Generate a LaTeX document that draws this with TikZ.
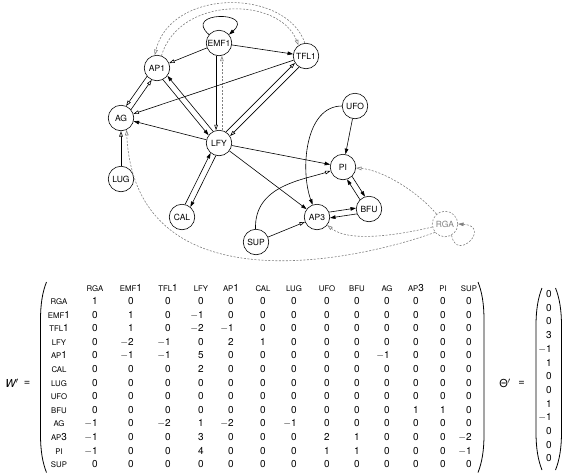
\documentclass[tikz,border=0pt]{standalone}
\usepackage{fontspec}
\setmainfont{TeX Gyre Heros}
\usetikzlibrary{arrows.meta}
\newcommand\lab[2]{{\fontsize{7.8}{9}\selectfont #1}{\fontsize{10}{11}\selectfont #2}}
\newcommand\sval[1]{\ifnum#1<0 \llap{$-$}\number-#1\else#1\fi}
\newcommand\mylpar[3]{\draw[par] ({#1+6},{#2}) .. controls ({#1+2},{#2+10}) and ({#1},{#2+22}) .. ({#1},{#2+38}) -- ({#1},{#3-38}) .. controls ({#1},{#3-22}) and ({#1+2},{#3-10}) .. ({#1+6},{#3});}
\newcommand\myrpar[3]{\draw[par] ({#1-6},{#2}) .. controls ({#1-2},{#2+10}) and ({#1},{#2+22}) .. ({#1},{#2+38}) -- ({#1},{#3-38}) .. controls ({#1},{#3-22}) and ({#1-2},{#3-10}) .. ({#1-6},{#3});}
\begin{document}
\begin{tikzpicture}[x=1pt,y=-1pt,
 gn/.style={circle,draw,line width=0.6pt,minimum size=25.5pt,inner sep=0pt,font=\fontsize{8.5}{10}\selectfont},
 gnd/.style={gn,draw=gray,text=gray,dash pattern=on 2pt off 1.5pt},
 ln/.style={line width=0.6pt},
 posa/.style={ln,-{Triangle[length=5.5pt,width=3.6pt]}},
 nega/.style={ln,-{Triangle[open,fill=white,length=5.5pt,width=3.6pt]}},
 dsh/.style={gray,dash pattern=on 2pt off 1.5pt},
 posd/.style={posa,dsh},
 negd/.style={nega,dsh},
 num/.style={inner sep=0pt,text height=7pt,text depth=0pt,font=\fontsize{10}{12}\selectfont},
 lbl/.style={inner sep=0pt,text height=7pt,text depth=0pt},
 big/.style={inner sep=0pt,font=\fontsize{11}{13}\selectfont},
 par/.style={line width=0.8pt},
]
\useasboundingbox (0,0) rectangle (563,475);
% graph nodes
\node[gn] (EMF1) at (219,43) {EMF1};
\node[gn] (TFL1) at (306,56) {TFL1};
\node[gn] (AP1) at (157,68) {AP1};
\node[gn] (AG) at (121,118) {AG};
\node[gn] (LFY) at (219,143) {LFY};
\node[gn] (UFO) at (355,106) {UFO};
\node[gn] (PI) at (343,167) {PI};
\node[gn] (BFU) at (369,209) {BFU};
\node[gn] (LUG) at (121,179) {LUG};
\node[gn] (CAL) at (182,217) {CAL};
\node[gn] (AP3) at (317,217) {AP3};
\node[gn] (SUP) at (256,242) {SUP};
\node[gnd] (RGA) at (445,224) {RGA};
% edges
\draw[posa] (EMF1.140) .. controls (182,11) and (256,11) .. (EMF1.40);
\draw[posa] (EMF1) -- (TFL1);
\draw[nega] (EMF1) -- (AP1);
\draw[nega] (EMF1.257) -- (LFY.103);
\draw[negd] (LFY.77) -- (EMF1.283);
\draw[negd] (TFL1.95) .. controls (286,-12) and (171,-12) .. (AP1.100);
\draw[negd] (AP1.70) .. controls (179,-4) and (279,-4) .. (TFL1.125);
\draw[posa] (LFY.117) -- (AP1.323);
\draw[posa] (AP1.297) -- (LFY.143);
\draw[nega] (LFY.58) -- (TFL1.212);
\draw[nega] (TFL1.238) -- (LFY.32);
\draw[nega] (AP1.220) -- (AG.67);
\draw[nega] (AG.40) -- (AP1.246);
\draw[nega] (TFL1) -- (AG);
\draw[posa] (LFY) -- (AG);
\draw[nega] (LUG) -- (AG);
\draw[posa] (LFY.256) -- (CAL.50);
\draw[posa] (CAL.76) -- (LFY.230);
\draw[posa] (LFY) -- (PI);
\draw[posa] (LFY) -- (AP3);
\draw[posa] (UFO) -- (PI);
\draw[posa] (UFO) .. controls (305,106) and (300,170) .. (AP3);
\draw[posa] (PI.314) -- (BFU.108);
\draw[posa] (BFU.134) -- (PI.288);
\draw[posa] (AP3.22) -- (BFU.176);
\draw[posa] (BFU.202) -- (AP3.356);
\draw[nega] (SUP) -- (AP3);
\draw[nega] (SUP) .. controls (254,186) and (302,180) .. (PI);
\draw[negd] (RGA) .. controls (417,191) and (382,170) .. (PI);
\draw[negd] (RGA) .. controls (407,233) and (351,244) .. (AP3);
\draw[negd] (RGA.220) .. controls (350,263) and (135,306) .. (AG.295);
\draw[posd] (RGA.300) .. controls (457,263) and (492,226) .. (RGA.0);
% matrix W'
\node[big] (Wl) at (12,383) {\itshape W$'$};
\node[big] (Weq) at (27,383) {=};
\mylpar{40.5}{282}{472.5}
\myrpar{484}{282}{472.5}
\foreach \a/\b/\cx [count=\ci] in {RGA/{}/95,EMF/1/131,TFL/1/168,LFY/{}/201,AP/1/231,CAL/{}/263,LUG/{}/294,UFO/{}/327,BFU/{}/357,AG/{}/387,AP/3/416,PI/{}/443,SUP/{}/469}
  \node[lbl] (h-\ci) at (\cx,287.5) {\lab{\a}{\b}};
\foreach \a/\b [count=\ri] in {RGA/{},EMF/1,TFL/1,LFY/{},AP/1,CAL/{},LUG/{},UFO/{},BFU/{},AG/{},AP/3,PI/{},SUP/{}}{
  \pgfmathsetmacro\ry{301+13.6*(\ri-1)}
  \node[lbl] (r-\ri) at (59,\ry) {\lab{\a}{\b}};
}
\foreach \row [count=\ri] in {
 {1,0,0,0,0,0,0,0,0,0,0,0,0},
 {0,1,0,-1,0,0,0,0,0,0,0,0,0},
 {0,1,0,-2,-1,0,0,0,0,0,0,0,0},
 {0,-2,-1,0,2,1,0,0,0,0,0,0,0},
 {0,-1,-1,5,0,0,0,0,0,-1,0,0,0},
 {0,0,0,2,0,0,0,0,0,0,0,0,0},
 {0,0,0,0,0,0,0,0,0,0,0,0,0},
 {0,0,0,0,0,0,0,0,0,0,0,0,0},
 {0,0,0,0,0,0,0,0,0,0,1,1,0},
 {-1,0,-2,1,-2,0,-1,0,0,0,0,0,0},
 {-1,0,0,3,0,0,0,2,1,0,0,0,-2},
 {-1,0,0,4,0,0,0,1,1,0,0,0,-1},
 {0,0,0,0,0,0,0,0,0,0,0,0,0}}{
  \pgfmathsetmacro\ry{301+13.6*(\ri-1)}
  \foreach \v [count=\ci] in \row {
    \pgfmathsetmacro\cx{{95,131,168,201,231,263,294,327,357,387,416,443,469}[\ci-1]}
    \node[num] (w-\ri-\ci) at (\cx,\ry) {\sval{\v}};
  }
}
% theta
\node[big] (Tl) at (505,383) {Θ$'$};
\node[big] (Teq) at (521.5,383) {=};
\mylpar{536}{288}{470}
\myrpar{561.5}{288}{470}
\foreach \v [count=\ri] in {0,0,0,3,-1,1,0,0,1,-1,0,0,0}{
  \pgfmathsetmacro\ry{294+13.7*(\ri-1)}
  \node[num] (t-\ri) at (549,\ry) {\sval{\v}};
}
\end{tikzpicture}
\end{document}
